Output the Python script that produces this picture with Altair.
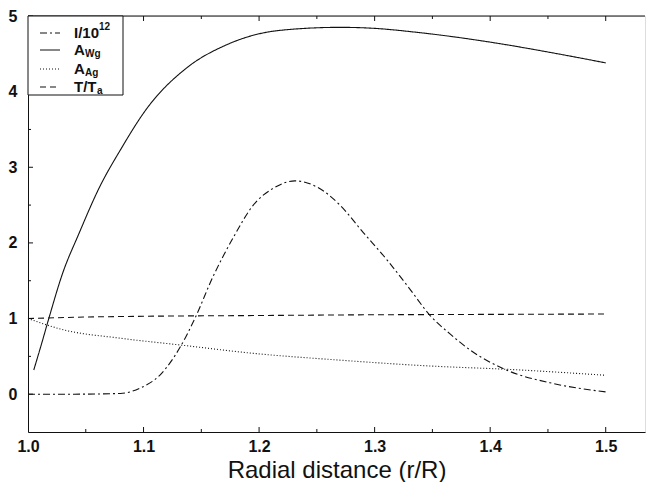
import altair as alt
import pandas as pd

# ---- data ----
aw_x = [1.005, 1.012, 1.018, 1.030, 1.044, 1.062, 1.080, 1.103, 1.137, 1.172, 1.218, 1.270, 1.296, 1.339, 1.406, 1.455, 1.500]
aw_y = [0.32, 0.68, 1.00, 1.60, 2.12, 2.74, 3.23, 3.78, 4.31, 4.62, 4.81, 4.85, 4.84, 4.78, 4.64, 4.51, 4.38]

i_x = [1.000, 1.040, 1.080, 1.097, 1.114, 1.132, 1.145, 1.160, 1.178, 1.195, 1.212, 1.231, 1.250, 1.270, 1.290, 1.311, 1.330, 1.348, 1.365, 1.383, 1.414, 1.455, 1.500]
i_y = [0.00, 0.00, 0.01, 0.08, 0.25, 0.63, 1.02, 1.55, 2.08, 2.50, 2.72, 2.82, 2.74, 2.50, 2.14, 1.77, 1.40, 1.04, 0.80, 0.58, 0.32, 0.14, 0.03]

aa_x = [1.000, 1.031, 1.080, 1.132, 1.195, 1.270, 1.339, 1.426, 1.500]
aa_y = [1.00, 0.85, 0.74, 0.65, 0.54, 0.45, 0.38, 0.32, 0.25]

t_x = [1.000, 1.050, 1.100, 1.200, 1.300, 1.400, 1.500]
t_y = [1.000, 1.020, 1.030, 1.040, 1.050, 1.055, 1.060]

x_ticks = [1.0, 1.1, 1.2, 1.3, 1.4, 1.5]
x_minor = [1.05, 1.15, 1.25, 1.35, 1.45]
y_ticks = [0, 1, 2, 3, 4, 5]
y_minor = [0.5, 1.5, 2.5, 3.5, 4.5]
series = ["I", "AWg", "AAg", "T"]
x_domain = [1.0, 1.534]
y_domain = [-0.5, 5.0]

rows = []
for name, xs, ys in [("I", i_x, i_y), ("AWg", aw_x, aw_y), ("AAg", aa_x, aa_y), ("T", t_x, t_y)]:
    rows += [{"r": a, "v": b, "s": name} for a, b in zip(xs, ys)]
df = pd.DataFrame(rows)

W, H = 617, 416
FONT = "Liberation Sans"
xs = alt.Scale(domain=x_domain, nice=False, zero=False)
ys = alt.Scale(domain=y_domain, nice=False, zero=False)
dash = alt.Scale(domain=series, range=[[7, 3, 2, 3], [1, 0], [1, 2], [6, 4]])

lines = alt.Chart(df).mark_line(color="#111", strokeWidth=1.1, interpolate="monotone").encode(
    x=alt.X("r:Q", scale=xs, axis=alt.Axis(values=x_ticks, format=".1f", title="Radial distance (r/R)",
                                            labelFontSize=16, titleFontSize=24, titleFontWeight="normal",
                                            labelFontWeight="bold", labelFlush=False,
                                            labelColor="#111", titleColor="#111", ticks=False, grid=False,
                                            domainColor="#111", labelPadding=6, titlePadding=4,
                                            labelFont=FONT, titleFont=FONT)),
    y=alt.Y("v:Q", scale=ys, axis=alt.Axis(values=y_ticks, format="d", title=None, labelFontSize=16,
                                            labelFontWeight="bold",
                                            labelColor="#111", ticks=False, grid=False, domainColor="#111",
                                            labelPadding=11, labelFont=FONT)),
    strokeDash=alt.StrokeDash("s:N", scale=dash, legend=None),
    detail="s:N",
)

# top frame line
top = alt.Chart(pd.DataFrame({"a": [x_domain[0]], "b": [x_domain[1]], "y": [y_domain[1]]})).mark_rule(
    color="#111", strokeWidth=1).encode(x="a:Q", x2="b:Q", y="y:Q")

# inward ticks (major and minor)
def xticks(vals, length):
    d = pd.DataFrame({"x": vals})
    b = alt.Chart(d).mark_rule(color="#111").encode(
        x=alt.X("x:Q", scale=xs), y=alt.value(H), y2=alt.value(H - length))
    t = alt.Chart(d).mark_rule(color="#111").encode(
        x=alt.X("x:Q", scale=xs), y=alt.value(0), y2=alt.value(length))
    return [b, t]

def yticks(vals, length):
    d = pd.DataFrame({"y": vals})
    return [alt.Chart(d).mark_rule(color="#111").encode(
        y=alt.Y("y:Q", scale=ys), x=alt.value(0), x2=alt.value(length))]

tick_layers = xticks(x_ticks[1:], 5) + xticks(x_minor, 3) + yticks(y_ticks, 5) + yticks(y_minor, 3)

# legend box
box = alt.Chart(pd.DataFrame({"k": [0]})).mark_rect(fill="white", stroke="#111", strokeWidth=1).encode(
    x=alt.value(0), x2=alt.value(95), y=alt.value(0), y2=alt.value(79))

leg_rows = [17, 34, 53, 71]
dashes = [[7, 3, 2, 3], [1, 0], [1, 2], [6, 4]]
legend_layers = [box]
for yy, d in zip(leg_rows, dashes):
    legend_layers.append(
        alt.Chart(pd.DataFrame({"k": [0]})).mark_rule(color="#111", strokeWidth=1.1, strokeDash=d).encode(
            x=alt.value(12), x2=alt.value(32), y=alt.value(yy)))

def txt(text, x, y, size=15, dy=0):
    return alt.Chart(pd.DataFrame({"k": [0]})).mark_text(
        text=text, align="left", baseline="middle", font=FONT, fontSize=size, fontWeight="bold",
        color="#111", dy=dy).encode(x=alt.value(x), y=alt.value(y))

legend_layers += [
    txt("I/10", 46, leg_rows[0]), txt("12", 71, leg_rows[0], size=10, dy=-6),
    txt("A", 46, leg_rows[1]), txt("Wg", 57, leg_rows[1], size=10, dy=4),
    txt("A", 46, leg_rows[2]), txt("Ag", 57, leg_rows[2], size=10, dy=4),
    txt("T/T", 46, leg_rows[3]), txt("a", 69, leg_rows[3], size=10, dy=4),
]

chart = alt.layer(lines, top, *tick_layers, *legend_layers).properties(
    width=W, height=H, padding={"left": 0, "top": 0, "right": 0, "bottom": 0}
).configure_view(stroke=None).configure(background="white")

chart.save("out.html", embed_options={"renderer": "svg", "actions": False})
